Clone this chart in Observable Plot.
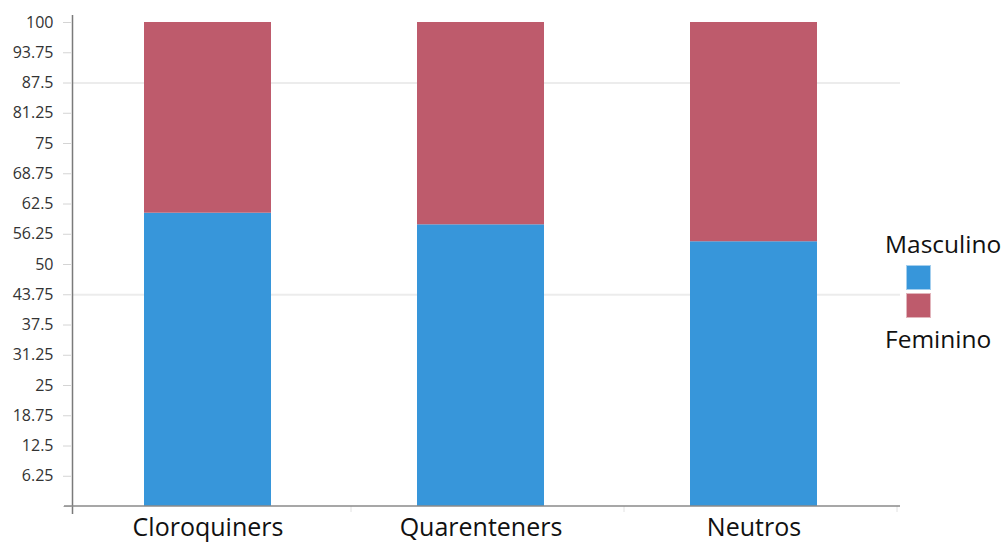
<!DOCTYPE html>
<html>
<head>
<meta charset="utf-8">
<script src="https://cdn.jsdelivr.net/npm/d3@7"></script>
<script src="https://cdn.jsdelivr.net/npm/@observablehq/plot@0.6"></script>
<style>
  body { margin: 0; background: #fff; font-family: "Open Sans", "Noto Sans", sans-serif; }
  #wrap { position: relative; width: 1006px; height: 543px; }
  .legend { position: absolute; left: 885px; top: 232px; width: 121px; color: #111; font-size: 24.5px; }
  .legend .lab { position: absolute; left: 0; white-space: nowrap; line-height: 1; }
  .legend .sw { position: absolute; left: 21px; width: 25px; height: 25px; box-sizing: border-box; border: 1px solid rgba(255,255,255,0.55); }
</style>
</head>
<body>
<div id="wrap"></div>
<script>
// Share of each gender per group (percent)
const groups = ["Cloroquiners", "Quarenteners", "Neutros"];
const genders = ["Masculino", "Feminino"];
const masculino = [60.6, 58.2, 54.7];
const feminino = [39.4, 41.8, 45.3];
const genderColors = ["#3796da", "#be5b6c"];
const yTicks = d3.range(0, 100.001, 6.25);
const gridValues = [43.75, 87.5];

const rows = groups.flatMap((g, i) => [
  {group: g, gender: genders[0], value: masculino[i]},
  {group: g, gender: genders[1], value: feminino[i]}
]);

const chart = Plot.plot({
  width: 1006,
  height: 543,
  marginLeft: 73,
  marginRight: 106,
  marginTop: 22,
  marginBottom: 37,
  style: {fontFamily: "'Open Sans', 'Noto Sans', sans-serif", background: "#fff", overflow: "visible"},
  x: {domain: groups, paddingInner: 0.534, paddingOuter: 0.279, align: 0.462, label: null},
  y: {domain: [0, 100], label: null},
  color: {domain: genders, range: genderColors},
  marks: [
    Plot.ruleY(gridValues, {stroke: "#ececec", strokeWidth: 2}),
    Plot.barY(rows, Plot.stackY({x: "group", y: "value", fill: "gender", order: genders})),
    Plot.axisY({
      ticks: yTicks, tickSize: 8, tickPadding: 10, dx: -2, stroke: "#d4d4d4",
      tickFormat: d => d === 0 ? "" : d3.format("")(d), fontSize: 16, fill: "#333", label: null
    }),
    Plot.axisX({ticks: groups, tickSize: 0, tickPadding: 11.5, fontSize: 25, fill: "#111", label: null}),
    Plot.axisX({ticks: groups, tickSize: 6, dx: 143, text: null, stroke: "#e2e2e2", label: null})
  ]
});

// extend the axis lines a little past the plotting frame
const svg = d3.select(chart);
const ys = chart.scale("y");
const y0 = ys.apply(0), y100 = ys.apply(100);
svg.append("line").attr("x1", 72.5).attr("x2", 72.5).attr("y1", y100 - 7).attr("y2", y0 + 8)
  .attr("stroke", "#7a7a7a").attr("stroke-width", 1.5);
svg.append("line").attr("x1", 64).attr("x2", 900).attr("y1", y0).attr("y2", y0)
  .attr("stroke", "#8a8a8a").attr("stroke-width", 1.5);

const wrap = document.getElementById("wrap");
wrap.appendChild(chart);

// legend at the right
const color = chart.scale("color");
const legend = document.createElement("div");
legend.className = "legend";
legend.innerHTML = `
  <div class="lab" style="top:-0.5px">${genders[0]}</div>
  <div class="sw" style="top:33px;background:${color.apply(genders[0])}"></div>
  <div class="sw" style="top:61px;background:${color.apply(genders[1])}"></div>
  <div class="lab" style="top:94.5px">${genders[1]}</div>`;
wrap.appendChild(legend);
</script>
</body>
</html>
